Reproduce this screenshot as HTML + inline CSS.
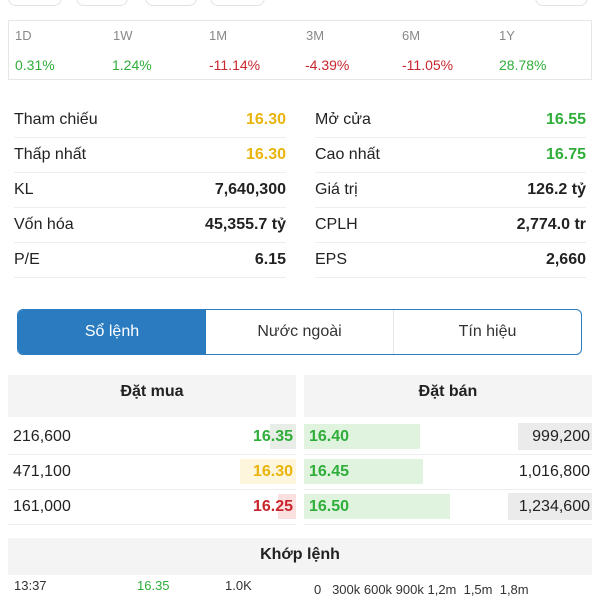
<!DOCTYPE html>
<html><head><meta charset="utf-8"><style>
*{box-sizing:border-box;margin:0;padding:0}
body{width:600px;height:600px;background:#fff;position:relative;overflow:hidden;font-family:"Liberation Sans",sans-serif;color:#222}
.a{position:absolute}
.t{position:absolute;white-space:nowrap;line-height:1}
.g{color:#2fae3a}.r{color:#c8262e}.y{color:#e9b40c}
.b{font-weight:bold}
.sep{position:absolute;height:1px;background:#eeeeee}
</style></head><body>
<div class="a" style="left:8px;top:-20px;width:54px;height:26px;border:1px solid #e2e2e2;border-radius:8px"></div>
<div class="a" style="left:76px;top:-20px;width:52px;height:26px;border:1px solid #e2e2e2;border-radius:8px"></div>
<div class="a" style="left:145px;top:-20px;width:52px;height:26px;border:1px solid #e2e2e2;border-radius:8px"></div>
<div class="a" style="left:210px;top:-20px;width:55px;height:26px;border:1px solid #e2e2e2;border-radius:8px"></div>
<div class="a" style="left:535px;top:-20px;width:53px;height:26px;border:1px solid #e2e2e2;border-radius:8px"></div>

<div class="a" style="left:8px;top:20px;width:584px;height:60px;border:1px solid #e6e6e6"></div>
<div style="font-size:13px;color:#888">
<span class="t" style="left:15px;top:29px">1D</span><span class="t" style="left:113px;top:29px">1W</span><span class="t" style="left:209px;top:29px">1M</span><span class="t" style="left:306px;top:29px">3M</span><span class="t" style="left:402px;top:29px">6M</span><span class="t" style="left:499px;top:29px">1Y</span></div>
<div style="font-size:14px">
<span class="t g" style="left:15px;top:58px">0.31%</span><span class="t g" style="left:112px;top:58px">1.24%</span><span class="t r" style="left:209px;top:58px">-11.14%</span><span class="t r" style="left:305px;top:58px">-4.39%</span><span class="t r" style="left:402px;top:58px">-11.05%</span><span class="t g" style="left:499px;top:58px">28.78%</span></div>

<div style="font-size:16px">
<span class="t" style="left:14px;top:112px">Tham chiếu</span><span class="t b y" style="right:314px;top:112px">16.30</span>
<span class="t" style="left:315px;top:112px">Mở cửa</span><span class="t b g" style="right:14px;top:112px">16.55</span>
<span class="t" style="left:14px;top:147px">Thấp nhất</span><span class="t b y" style="right:314px;top:147px">16.30</span>
<span class="t" style="left:315px;top:147px">Cao nhất</span><span class="t b g" style="right:14px;top:147px">16.75</span>
<span class="t" style="left:14px;top:182px">KL</span><span class="t b" style="right:314px;top:182px">7,640,300</span>
<span class="t" style="left:315px;top:182px">Giá trị</span><span class="t b" style="right:14px;top:182px">126.2 tỷ</span>
<span class="t" style="left:14px;top:217px">Vốn hóa</span><span class="t b" style="right:314px;top:217px">45,355.7 tỷ</span>
<span class="t" style="left:315px;top:217px">CPLH</span><span class="t b" style="right:14px;top:217px">2,774.0 tr</span>
<span class="t" style="left:14px;top:252px">P/E</span><span class="t b" style="right:314px;top:252px">6.15</span>
<span class="t" style="left:315px;top:252px">EPS</span><span class="t b" style="right:14px;top:252px">2,660</span>
<div class="sep" style="left:14px;width:272px;top:137px"></div><div class="sep" style="left:315px;width:271px;top:137px"></div>
<div class="sep" style="left:14px;width:272px;top:172px"></div><div class="sep" style="left:315px;width:271px;top:172px"></div>
<div class="sep" style="left:14px;width:272px;top:207px"></div><div class="sep" style="left:315px;width:271px;top:207px"></div>
<div class="sep" style="left:14px;width:272px;top:242px"></div><div class="sep" style="left:315px;width:271px;top:242px"></div>
<div class="sep" style="left:14px;width:272px;top:277px"></div><div class="sep" style="left:315px;width:271px;top:277px"></div>
</div>

<div class="a" style="left:17px;top:309px;width:565px;height:46px;border:1.5px solid #2a7bbf;border-radius:6px;overflow:hidden;font-size:16px">
<div class="a" style="left:0;top:0;width:188px;height:100%;background:#2a7bbf;color:#fff;text-align:center;line-height:43px">Sổ lệnh</div>
<div class="a" style="left:188px;top:0;width:188px;height:100%;color:#333;text-align:center;line-height:43px;border-right:1px solid #e4e4e4">Nước ngoài</div>
<div class="a" style="left:376px;top:0;width:187px;height:100%;color:#333;text-align:center;line-height:43px">Tín hiệu</div>
</div>

<div class="a b" style="left:8px;top:375px;width:288px;height:42px;background:#f4f4f4;text-align:center;line-height:34px;font-size:16px">Đặt mua</div>
<div class="a b" style="left:304px;top:375px;width:288px;height:42px;background:#f4f4f4;text-align:center;line-height:34px;font-size:16px">Đặt bán</div>

<div style="font-size:16px">
<div class="a" style="left:270px;top:424px;width:26px;height:25px;background:#e8ede8"></div>
<div class="a" style="left:240px;top:459px;width:56px;height:25px;background:#fdf5dc"></div>
<div class="a" style="left:278px;top:494px;width:18px;height:25px;background:#fbe0e0"></div>
<div class="a" style="left:304px;top:424px;width:116px;height:25px;background:#dff3df"></div>
<div class="a" style="left:304px;top:459px;width:119px;height:25px;background:#dff3df"></div>
<div class="a" style="left:304px;top:494px;width:146px;height:25px;background:#dff3df"></div>
<div class="a" style="left:518px;top:423px;width:74px;height:27px;background:#ebebeb"></div>
<div class="a" style="left:508px;top:493px;width:84px;height:27px;background:#ebebeb"></div>
<span class="t" style="left:13px;top:429px">216,600</span><span class="t b g" style="right:307px;top:429px">16.35</span><span class="t b g" style="left:309px;top:429px">16.40</span><span class="t" style="right:10px;top:429px">999,200</span>
<span class="t" style="left:13px;top:464px">471,100</span><span class="t b y" style="right:307px;top:464px">16.30</span><span class="t b g" style="left:309px;top:464px">16.45</span><span class="t" style="right:10px;top:464px">1,016,800</span>
<span class="t" style="left:13px;top:499px">161,000</span><span class="t b r" style="right:307px;top:499px">16.25</span><span class="t b g" style="left:309px;top:499px">16.50</span><span class="t" style="right:10px;top:499px">1,234,600</span>
<div class="sep" style="left:8px;width:288px;top:454px"></div><div class="sep" style="left:304px;width:288px;top:454px"></div>
<div class="sep" style="left:8px;width:288px;top:489px"></div><div class="sep" style="left:304px;width:288px;top:489px"></div>
<div class="sep" style="left:8px;width:288px;top:524px"></div><div class="sep" style="left:304px;width:288px;top:524px"></div>
</div>

<div class="a b" style="left:8px;top:538px;width:584px;height:37px;background:#f4f4f4;text-align:center;line-height:34px;font-size:16px">Khớp lệnh</div>
<div style="font-size:13px;color:#333">
<span class="t" style="left:14px;top:579px">13:37</span><span class="t g" style="left:137px;top:579px">16.35</span><span class="t" style="left:225px;top:579px">1.0K</span>
<span class="t" style="left:314px;top:583px">0 &nbsp;&nbsp;300k 600k 900k 1,2m &nbsp;1,5m &nbsp;1,8m</span>
</div>
</body></html>
